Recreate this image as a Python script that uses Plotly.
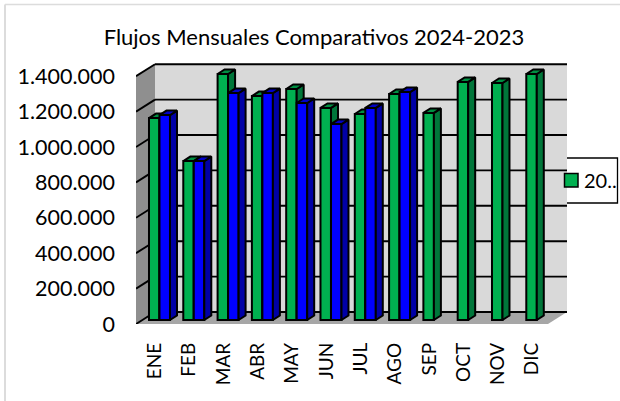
import plotly.graph_objects as go

MONTHS = ["ENE", "FEB", "MAR", "ABR", "MAY", "JUN", "JUL", "AGO", "SEP", "OCT", "NOV", "DIC"]
SERIES_2024 = [1141000, 898000, 1390000, 1265000, 1305000, 1198000, 1164000, 1277000, 1170000, 1345000, 1339000, 1390000]
SERIES_2023 = [1158000, 898000, 1282000, 1282000, 1226000, 1107000, 1198000, 1288000]
Y_TICKS = [0, 200000, 400000, 600000, 800000, 1000000, 1200000, 1400000]
TITLE = "Flujos Mensuales Comparativos 2024-2023"
LEGEND_NAME = "20.."

W, H = 620, 401
L, R, T, B = 136, 53, 62, 77
PX_X = 34.3
PX_Y = 5650
FONT = "Lato, Open Sans, sans-serif"
WALL_DX = 19 / PX_X
WALL_DY = 12 * PX_Y
X0 = -WALL_DX
X1 = (W - R - L) / PX_X + X0
X_FLOOR_END = X1 - WALL_DX
Y1 = (H - T - B) * PX_Y
BASE = 4 * PX_Y
BAR_W = 10.5 / PX_X
BAR_DX = 7 / PX_X
BAR_DY = 4.5 * PX_Y
OUT = 2.0
GRID = 1.9
GREEN = "#00b050"


def px(v):
    return (v - L) / (W - L - R)


def py(v):
    return (H - B - v) / (H - T - B)


def series_layer(values, centre_shift, front, side, top, name, xa, ya):
    xs = [i + centre_shift for i in range(len(values))]
    traces = [go.Bar(x=xs, y=values, base=[BASE] * len(values), width=BAR_W, name=name,
                     showlegend=False, marker=dict(color=front, line=dict(color="black", width=OUT)),
                     xaxis=xa, yaxis=ya, hoverinfo="skip")]
    side_x, side_y, top_x, top_y = [], [], [], []
    for x, v in zip(xs, values):
        a, b, h = x - BAR_W / 2, x + BAR_W / 2, BASE + v
        side_x += [b, b + BAR_DX, b + BAR_DX, b, b, None]
        side_y += [BASE, BASE + BAR_DY, h + BAR_DY, h, BASE, None]
        top_x += [a, b, b + BAR_DX, a + BAR_DX, a, None]
        top_y += [h, h, h + BAR_DY, h + BAR_DY, h, None]
    for fx, fy, col in ((side_x, side_y, side), (top_x, top_y, top)):
        traces.append(go.Scatter(x=fx, y=fy, mode="lines", fill="toself", fillcolor=col,
                                 line=dict(color="black", width=OUT), showlegend=False,
                                 xaxis=xa, yaxis=ya, hoverinfo="skip"))
    return traces


fig = go.Figure()
for t in series_layer(SERIES_2024, 0.131 - BAR_W / 2, GREEN, "#00763a", "#008f42", "2024", "x", "y"):
    fig.add_trace(t)
for t in series_layer(SERIES_2023, 0.131 + BAR_W / 2, "#0000ff", "#0000a6", "#0000c8", "2023", "x2", "y2"):
    fig.add_trace(t)

shapes = [
    # chart border (left and top only are visible)
    dict(type="line", xref="paper", yref="paper", x0=px(5), x1=px(5), y0=py(401), y1=py(4.5),
         line=dict(color="#dcdcdc", width=2), layer="below"),
    dict(type="line", xref="paper", yref="paper", x0=px(5), x1=px(620), y0=py(4.5), y1=py(4.5),
         line=dict(color="#dcdcdc", width=1.5), layer="below"),
    # back wall
    dict(type="rect", x0=0, x1=X1, y0=WALL_DY, y1=WALL_DY + Y_TICKS[-1],
         fillcolor="#d9d9d9", line=dict(width=0), layer="below"),
    # side wall
    dict(type="path", path=f"M {X0},0 L 0,{WALL_DY} L 0,{WALL_DY + Y_TICKS[-1]} L {X0},{Y_TICKS[-1]} Z",
         fillcolor="#8f8f8f", line=dict(width=0), layer="below"),
    # floor
    dict(type="path", path=f"M {X0},0 L 0,{WALL_DY} L {X1},{WALL_DY} L {X_FLOOR_END},0 Z",
         fillcolor="#a6a6a6", line=dict(width=0), layer="below"),
    # legend box and swatch
    dict(type="rect", xref="paper", yref="paper", x0=px(543.5), x1=px(617.5), y0=py(203), y1=py(158),
         fillcolor="white", line=dict(color="black", width=1.3), layer="below"),
    dict(type="rect", xref="paper", yref="paper", x0=px(564.5), x1=px(578), y0=py(187), y1=py(173.5),
         fillcolor=GREEN, line=dict(color="black", width=1.5), layer="above"),
]
for v in Y_TICKS:
    shapes.append(dict(type="line", x0=0, x1=X1, y0=v + WALL_DY, y1=v + WALL_DY,
                       line=dict(color="black", width=GRID), layer="below"))
    shapes.append(dict(type="line", x0=X0, x1=0, y0=v, y1=v + WALL_DY,
                       line=dict(color="black", width=GRID), layer="below"))

fig.update_layout(
    width=W, height=H, margin=dict(l=L, r=R, t=T, b=B, autoexpand=False), autosize=False,
    paper_bgcolor="white", plot_bgcolor="rgba(0,0,0,0)", separators=",.",
    font=dict(family=FONT, color="black", size=18),
    title=dict(text=TITLE, x=314 / W, xanchor="center", y=1 - 37 / H, yanchor="middle",
               font=dict(family=FONT, size=22, color="black")),
    barmode="overlay",
    showlegend=False,
    shapes=shapes,
    annotations=[dict(text=LEGEND_NAME, xref="paper", yref="paper", x=px(583), y=py(180),
                      xanchor="left", yanchor="middle", showarrow=False, borderpad=0,
                      font=dict(family=FONT, size=20, color="black"))],
    xaxis=dict(range=[X0, X1], tickmode="array", tickvals=list(range(len(MONTHS))), ticktext=MONTHS,
               tickangle=-90, showgrid=False, zeroline=False, showline=False, ticks="",
               ticklabelstandoff=14, tickfont=dict(family=FONT, size=19), fixedrange=True),
    yaxis=dict(range=[0, Y1], tickmode="array", tickvals=Y_TICKS, tickformat=",d", showgrid=False,
               zeroline=False, showline=False, ticks="", ticklabelstandoff=20,
               tickfont=dict(family=FONT, size=21.5), fixedrange=True),
    xaxis2=dict(overlaying="x", matches="x", visible=False),
    yaxis2=dict(overlaying="y", matches="y", visible=False),
)
fig.write_html("out.html", post_script="document.body.style.margin='0';", config={"displayModeBar": False})
